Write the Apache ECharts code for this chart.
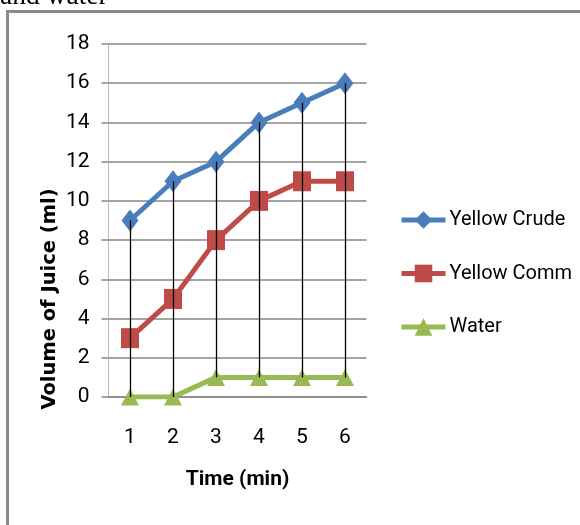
<!DOCTYPE html>
<html>
<head>
<meta charset="utf-8">
<script src="https://cdn.jsdelivr.net/npm/echarts@6/dist/echarts.min.js"></script>
<style>
html,body{margin:0;padding:0;background:#fff;}
#chart{width:580px;height:525px;}
</style>
</head>
<body>
<div id="chart"></div>
<script>
var categories = ['1', '2', '3', '4', '5', '6'];
var yellowCrude = [9, 11, 12, 14, 15, 16];
var yellowComm = [3, 5, 8, 10, 11, 11];
var water = [0, 0, 1, 1, 1, 1];
var yTicks = [0, 2, 4, 6, 8, 10, 12, 14, 16, 18];

var NARROW = 'Roboto, "Liberation Sans", sans-serif';

var hiLo = categories.map(function (c, i) {
  var vals = [yellowCrude[i], yellowComm[i], water[i]];
  return [i, Math.min.apply(null, vals), Math.max.apply(null, vals)];
});

var chart = echarts.init(document.getElementById('chart'), null, {renderer: 'canvas'});
chart.setOption({
  animation: false,
  backgroundColor: '#ffffff',
  grid: {left: 108.5, top: 44, width: 258, height: 353, containLabel: false},
  legend: {
    orient: 'vertical',
    left: 399,
    top: 208,
    padding: 0,
    itemWidth: 44,
    itemHeight: 22,
    itemGap: 29.5,
    lineStyle: {width: 5},
    textStyle: {fontFamily: NARROW, fontSize: 20, color: '#000', lineHeight: 24, padding: [0, 0, 0, -1]},
    data: ['Yellow Crude', 'Yellow Comm', 'Water']
  },
  xAxis: {
    type: 'category',
    data: categories,
    boundaryGap: true,
    axisLine: {show: true, lineStyle: {color: '#868686', width: 1.5}},
    axisTick: {show: false},
    axisLabel: {fontFamily: NARROW, fontSize: 21, color: '#000', margin: 30},
    splitLine: {show: false}
  },
  yAxis: {
    type: 'value',
    min: 0,
    max: 18,
    interval: 2,
    axisLine: {show: true, lineStyle: {color: '#b8b8b8', width: 1}},
    axisTick: {show: true, length: 7, lineStyle: {color: '#868686', width: 1.5}},
    axisLabel: {fontFamily: NARROW, fontSize: 21, color: '#000', margin: 19,
      formatter: function (v) { return yTicks.indexOf(v) >= 0 ? String(v) : ''; }},
    splitLine: {show: true, lineStyle: {color: '#868686', width: 1.5}}
  },
  graphic: [
    {type: 'rect', shape: {x: 7.5, y: 11.5, width: 800, height: 800},
      style: {fill: null, stroke: '#8a8a8a', lineWidth: 3}, z: 100},
    {type: 'text', x: 0, y: 11, style: {text: 'and water', font: '27.5px "Liberation Serif", serif',
      fill: '#000', textAlign: 'left', textVerticalAlign: 'bottom'}, z: 100},
    {type: 'text', x: 50, y: 299, rotation: Math.PI / 2,
      style: {text: 'Volume of Juice (ml)', font: 'bold 19.5px "DejaVu Sans", sans-serif',
        fill: '#000', textAlign: 'center', textVerticalAlign: 'middle'}, z: 100},
    {type: 'text', x: 237.5, y: 480,
      style: {text: 'Time (min)', font: 'bold 21px ' + NARROW,
        fill: '#000', textAlign: 'center', textVerticalAlign: 'middle'}, z: 100}
  ],
  series: [
    {
      name: 'Yellow Crude', type: 'line', data: yellowCrude,
      symbol: 'diamond', symbolSize: [17, 22],
      lineStyle: {color: '#4A7EBB', width: 5},
      itemStyle: {color: '#4A7EBB'}, z: 3
    },
    {
      name: 'Yellow Comm', type: 'line', data: yellowComm,
      symbol: 'rect', symbolSize: [18, 20],
      lineStyle: {color: '#BE4B48', width: 5},
      itemStyle: {color: '#BE4B48'}, z: 3
    },
    {
      name: 'Water', type: 'line', data: water,
      symbol: 'triangle', symbolSize: [18, 17],
      lineStyle: {color: '#98B954', width: 5},
      itemStyle: {color: '#98B954'}, z: 3
    },
    {
      name: 'hilo', type: 'custom', data: hiLo, z: 5, silent: true,
      encode: {x: 0, y: [1, 2]},
      renderItem: function (params, api) {
        var lo = api.coord([api.value(0), api.value(1)]);
        var hi = api.coord([api.value(0), api.value(2)]);
        var x = Math.round(lo[0]) + 0.5;
        return {type: 'line', shape: {x1: x, y1: lo[1], x2: x, y2: hi[1]},
          style: {stroke: '#000', lineWidth: 1.3}};
      }
    }
  ]
});
</script>
</body>
</html>
